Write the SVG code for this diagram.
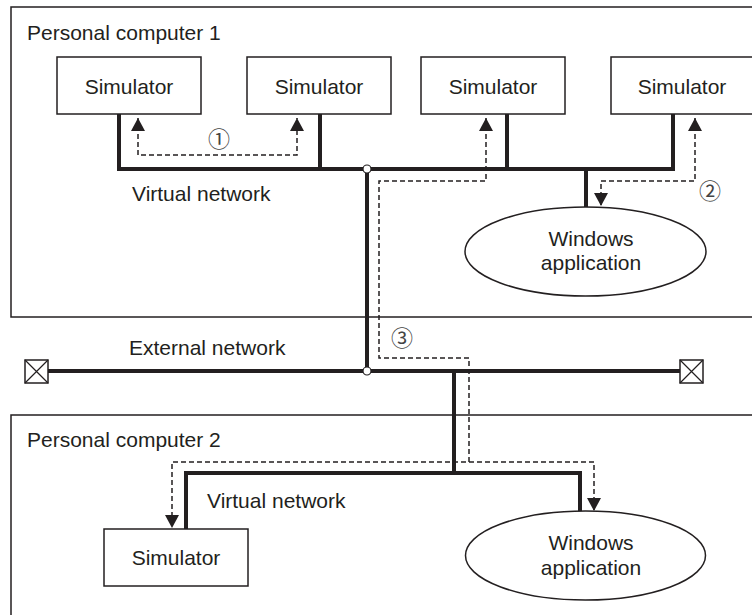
<svg xmlns="http://www.w3.org/2000/svg" width="752" height="615" viewBox="0 0 752 615">
<style>
.t{font-family:"Liberation Sans",Arial,sans-serif;font-size:21px;fill:#231f20}
.c{text-anchor:middle}
.box{fill:#fff;stroke:#231f20;stroke-width:1.5}
.frame{fill:none;stroke:#231f20;stroke-width:1.5}
.bus{fill:none;stroke:#231f20;stroke-width:4;stroke-linejoin:miter;stroke-linecap:butt}
.dash{fill:none;stroke:#231f20;stroke-width:1.5;stroke-dasharray:5,3;marker-start:url(#ah);marker-end:url(#ah)}
.num{font-family:"Noto Sans CJK JP","DejaVu Sans",sans-serif;font-size:22px;fill:#444;text-anchor:middle}
.jn{fill:#fff;stroke:#231f20;stroke-width:1.2}
</style>
<defs>
<marker id="ah" viewBox="0 0 14 14" refX="13" refY="7" markerWidth="14" markerHeight="14" markerUnits="userSpaceOnUse" orient="auto-start-reverse">
<path d="M0,0 L13,7 L0,14 z" fill="#231f20"/>
</marker>
</defs>
<rect width="752" height="615" fill="#fff"/>

<g id="pc1">
<rect class="frame" x="11" y="7" width="746" height="310"/>
<text class="t" x="27" y="40">Personal computer 1</text>
<text class="t" x="132" y="201">Virtual network</text>
</g>
<g id="pc2">
<rect class="frame" x="11" y="415" width="746" height="215"/>
<text class="t" x="27" y="447">Personal computer 2</text>
<text class="t" x="207" y="508">Virtual network</text>
</g>
<g id="external-network">
<text class="t" x="129" y="355">External network</text>
</g>

<g id="connectors">
<path class="bus" d="M119,114 V169 H673 V114"/>
<path class="bus" d="M320,114 V169"/>
<path class="bus" d="M507,114 V169"/>
<path class="bus" d="M586,169 V207"/>
<path class="bus" d="M367,169 V371"/>
<path class="bus" d="M48,371 H680"/>
<path class="bus" d="M454,371 V473"/>
<path class="bus" d="M186,529 V473 H580 V512"/>
<path class="dash" d="M138,118 V155 H297 V118"/>
<path class="dash" d="M695,118 V181 H601 V206"/>
<path class="dash" d="M486,118 V181 H379 V358 H469 V462 H172 V528"/>
<path class="dash" style="marker-start:none" d="M469,462 H594 V511"/>
<circle class="jn" cx="367" cy="169" r="4"/>
<circle class="jn" cx="367" cy="371" r="4"/>
<text class="num" x="219" y="147">①</text>
<text class="num" x="710" y="199">②</text>
<text class="num" x="402" y="346">③</text>
</g>

<g id="term-left">
<rect class="box" x="25" y="360" width="23" height="23"/>
<path d="M25,360 L48,383 M48,360 L25,383" stroke="#231f20" stroke-width="1.2"/>
</g>
<g id="term-right">
<rect class="box" x="680" y="360" width="23" height="23"/>
<path d="M680,360 L703,383 M703,360 L680,383" stroke="#231f20" stroke-width="1.2"/>
</g>

<g id="sim1">
<rect class="box" x="57" y="57" width="144" height="57"/>
<text class="t c" x="129" y="94">Simulator</text>
</g>
<g id="sim2">
<rect class="box" x="247" y="57" width="144" height="57"/>
<text class="t c" x="319" y="94">Simulator</text>
</g>
<g id="sim3">
<rect class="box" x="421" y="57" width="144" height="57"/>
<text class="t c" x="493" y="94">Simulator</text>
</g>
<g id="sim4">
<rect class="box" x="611" y="57" width="144" height="57"/>
<text class="t c" x="682" y="94">Simulator</text>
</g>
<g id="winapp1">
<ellipse class="box" cx="585.5" cy="251.5" rx="120.5" ry="44.5"/>
<text class="t c" x="591" y="246">Windows</text>
<text class="t c" x="591" y="270">application</text>
</g>
<g id="sim5">
<rect class="box" x="104" y="529" width="144" height="57"/>
<text class="t c" x="176" y="565">Simulator</text>
</g>
<g id="winapp2">
<ellipse class="box" cx="585.5" cy="555.5" rx="120" ry="44.5"/>
<text class="t c" x="591" y="550">Windows</text>
<text class="t c" x="591" y="575">application</text>
</g>
</svg>
